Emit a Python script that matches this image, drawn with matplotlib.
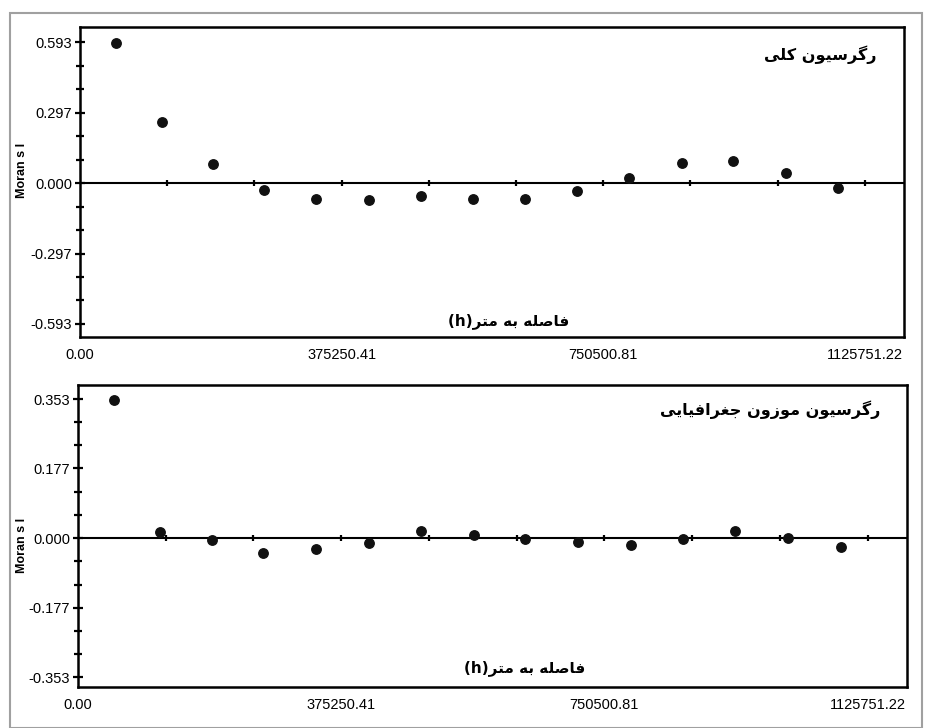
import matplotlib
matplotlib.use("Agg")
import matplotlib.pyplot as plt
from matplotlib.patches import Rectangle

# lag distance classes (m), shared by both correlograms
lag_dist = [51500, 117300, 190900, 263900, 338900, 414700, 489100, 564200,
            637800, 712900, 788000, 863100, 937400, 1012500, 1087600]

# Moran's I of the residuals, global regression
moran_ols = [0.590, 0.257, 0.082, -0.028, -0.065, -0.073, -0.056, -0.069,
             -0.069, -0.035, 0.020, 0.083, 0.091, 0.041, -0.022]

# Moran's I of the residuals, geographically weighted regression
moran_gwr = [0.350, 0.015, -0.005, -0.038, -0.028, -0.013, 0.018, 0.008,
             -0.003, -0.010, -0.018, -0.003, 0.018, 0.000, -0.023]

x_ticks = [0.0, 375250.41, 750500.81, 1125751.22]
x_tick_labels = ["0.00", "375250.41", "750500.81", "1125751.22"]
y_ticks_ols = [-0.593, -0.297, 0.0, 0.297, 0.593]
y_ticks_gwr = [-0.353, -0.177, 0.0, 0.177, 0.353]

title_ols = "رگرسیون کلی"
title_gwr = "رگرسیون موزون جغرافیایی"
xlabel_fa = "فاصله به متر"

# presentation forms: isolated, final, initial, medial
FORMS = {
    'ا': ('\uFE8D', '\uFE8E', None, None),
    'ب': ('\uFE8F', '\uFE90', '\uFE91', '\uFE92'),
    'ت': ('\uFE95', '\uFE96', '\uFE97', '\uFE98'),
    'ج': ('\uFE9D', '\uFE9E', '\uFE9F', '\uFEA0'),
    'ر': ('\uFEAD', '\uFEAE', None, None),
    'ز': ('\uFEAF', '\uFEB0', None, None),
    'س': ('\uFEB1', '\uFEB2', '\uFEB3', '\uFEB4'),
    'ص': ('\uFEB9', '\uFEBA', '\uFEBB', '\uFEBC'),
    'غ': ('\uFECD', '\uFECE', '\uFECF', '\uFED0'),
    'ف': ('\uFED1', '\uFED2', '\uFED3', '\uFED4'),
    'ل': ('\uFEDD', '\uFEDE', '\uFEDF', '\uFEE0'),
    'م': ('\uFEE1', '\uFEE2', '\uFEE3', '\uFEE4'),
    'ن': ('\uFEE5', '\uFEE6', '\uFEE7', '\uFEE8'),
    'ه': ('\uFEE9', '\uFEEA', '\uFEEB', '\uFEEC'),
    'و': ('\uFEED', '\uFEEE', None, None),
    'ک': ('\uFB8E', '\uFB8F', '\uFB90', '\uFB91'),
    'گ': ('\uFB92', '\uFB93', '\uFB94', '\uFB95'),
    'ی': ('\uFBFC', '\uFBFD', '\uFBFE', '\uFBFF'),
}


def fa(text):
    """Join Persian letters and put them in visual (left-to-right) order."""
    out = []
    for i, ch in enumerate(text):
        f = FORMS.get(ch)
        if f is None:
            out.append(ch)
            continue
        prev = text[i - 1] if i > 0 else ''
        nxt = text[i + 1] if i + 1 < len(text) else ''
        join_prev = prev in FORMS and FORMS[prev][2] is not None
        join_next = f[2] is not None and nxt in FORMS
        if join_prev and join_next:
            out.append(f[3])
        elif join_prev:
            out.append(f[1])
        elif join_next:
            out.append(f[2])
        else:
            out.append(f[0])
    return ''.join(reversed(out))


plt.rcParams['font.family'] = ['Liberation Sans', 'DejaVu Sans']

W, H = 927, 728
fig = plt.figure(figsize=(W / 100, H / 100), dpi=100)
fig.patch.set_facecolor('white')

# light gray frame round the figure
fig.add_artist(Rectangle((10 / W, 0), 912 / W, 1 - 13 / H, transform=fig.transFigure,
                         fill=False, edgecolor='#a0a0a0', linewidth=1.5))


def px_axes(left, top, right, bottom):
    return fig.add_axes([left / W, 1 - bottom / H, (right - left) / W, (bottom - top) / H])


def correlogram(ax, values, yticks, ylim, title, title_xy, xlabel_xy, ylab_y):
    ax.set_xlim(0, 1182000)
    ax.set_ylim(*ylim)
    ax.axhline(0, color='black', linewidth=1.5, zorder=1)
    # small marks along the zero line, three per major interval
    minor_x = [x_ticks[1] * k / 3 for k in range(1, 10)]
    ax.plot(minor_x, [0] * len(minor_x), linestyle='none', marker='|',
            markersize=5, markeredgewidth=1.6, color='black', zorder=2)
    ax.plot(lag_dist, values, linestyle='none', marker='o', markersize=6.8,
            color='#111111', zorder=3)

    ax.set_xticks(x_ticks)
    ax.set_xticklabels(x_tick_labels)
    ax.tick_params(axis='x', length=0, pad=8, labelsize=10.5)
    ax.set_yticks(yticks)
    ax.set_yticklabels([f"{v:.3f}" for v in yticks])
    minor_y = []
    for a, b in zip(yticks[:-1], yticks[1:]):
        minor_y += [a + (b - a) / 3, a + 2 * (b - a) / 3]
    ax.set_yticks(minor_y, minor=True)
    ax.tick_params(axis='y', which='major', direction='inout', length=7,
                   width=1.6, labelsize=10.5, pad=2)
    ax.tick_params(axis='y', which='minor', direction='inout', length=6, width=1.6)
    for s in ax.spines.values():
        s.set_linewidth(1.8)

    fig.text(title_xy[0] / W, 1 - title_xy[1] / H, fa(title), ha='right', va='center',
             fontsize=11.5, fontweight='bold', family=['DejaVu Sans'])
    fig.text(xlabel_xy[0] / W, 1 - xlabel_xy[1] / H, "(h)" + fa(xlabel_fa),
             ha='center', va='center', fontsize=11, fontweight='bold',
             family=['DejaVu Sans'])
    fig.text(22 / W, 1 - ylab_y / H, "Moran s I", rotation=90, ha='center',
             va='center', fontsize=9, fontweight='bold')


ax1 = px_axes(80, 27, 904, 337)
correlogram(ax1, moran_ols, y_ticks_ols, (-0.648, 0.657), title_ols,
            (876, 55), (509, 321), 170)

ax2 = px_axes(78, 385, 907, 687)
correlogram(ax2, moran_gwr, y_ticks_gwr, (-0.378, 0.389), title_gwr,
            (880, 410), (525, 668), 545)

fig.savefig('out.png', dpi=100, facecolor='white')
